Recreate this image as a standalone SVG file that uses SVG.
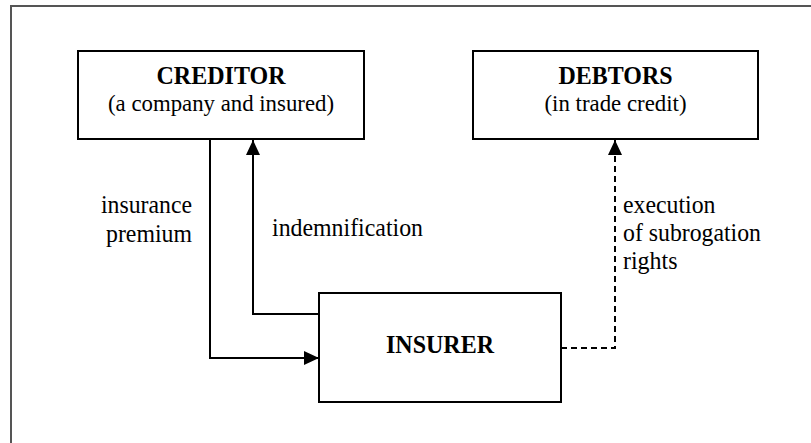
<svg xmlns="http://www.w3.org/2000/svg" width="811" height="443" viewBox="0 0 811 443">
  <defs>
    <style>
      .frame { fill: none; stroke: #555555; stroke-width: 2; }
      .box { fill: #ffffff; stroke: #000000; stroke-width: 2; }
      text { font-family: "Liberation Serif", "Times New Roman", serif; fill: #000000; }
      .title { font-size: 25.5px; font-weight: bold; text-anchor: middle; }
      .sub { font-size: 23px; text-anchor: middle; }
      .label { font-size: 25.5px; }
      .flow { fill: none; stroke: #000000; stroke-width: 2; }
      .dashed { stroke-dasharray: 6 4; }
    </style>
    <marker id="arrow" viewBox="0 0 15 14" refX="15" refY="7" markerWidth="15" markerHeight="14" markerUnits="userSpaceOnUse" orient="auto">
      <path d="M0,0 L15,7 L0,14 Z" fill="#000000"/>
    </marker>
  </defs>

  <rect width="811" height="443" fill="#ffffff"/>
  <!-- outer frame, open past the right and bottom edges -->
  <rect class="frame" x="11" y="6" width="820" height="460"/>

  <g id="creditor">
    <rect class="box" x="78" y="51" width="286" height="88"/>
    <text class="title" x="221" y="84" textLength="129" lengthAdjust="spacingAndGlyphs">CREDITOR</text>
    <text class="sub" x="221" y="111" textLength="226" lengthAdjust="spacingAndGlyphs">(a company and insured)</text>
  </g>

  <g id="debtors">
    <rect class="box" x="473" y="51" width="285" height="88"/>
    <text class="title" x="615.5" y="84" textLength="114" lengthAdjust="spacingAndGlyphs">DEBTORS</text>
    <text class="sub" x="615.5" y="111" textLength="142" lengthAdjust="spacingAndGlyphs">(in trade credit)</text>
  </g>

  <g id="insurer">
    <rect class="box" x="319" y="293" width="242" height="109"/>
    <text class="title" x="440" y="353" textLength="108" lengthAdjust="spacingAndGlyphs">INSURER</text>
  </g>

  <g id="connectors">
    <!-- premium: creditor to insurer -->
    <polyline class="flow" points="210,139 210,358 319,358" marker-end="url(#arrow)"/>
    <!-- indemnification: insurer to creditor -->
    <polyline class="flow" points="319,314 253,314 253,140" marker-end="url(#arrow)"/>
    <!-- subrogation: insurer to debtors -->
    <polyline class="flow dashed" points="561,348 615,348 615,140" marker-end="url(#arrow)"/>
  </g>

  <g id="labels">
    <text class="label" x="192" y="213" text-anchor="end" textLength="91" lengthAdjust="spacingAndGlyphs">insurance</text>
    <text class="label" x="192" y="242" text-anchor="end" textLength="86" lengthAdjust="spacingAndGlyphs">premium</text>
    <text class="label" x="272" y="236" textLength="151" lengthAdjust="spacingAndGlyphs">indemnification</text>
    <text class="label" x="623" y="213" textLength="92.5" lengthAdjust="spacingAndGlyphs">execution</text>
    <text class="label" x="623" y="241" textLength="138" lengthAdjust="spacingAndGlyphs">of subrogation</text>
    <text class="label" x="623" y="269" textLength="54.5" lengthAdjust="spacingAndGlyphs">rights</text>
  </g>
</svg>
